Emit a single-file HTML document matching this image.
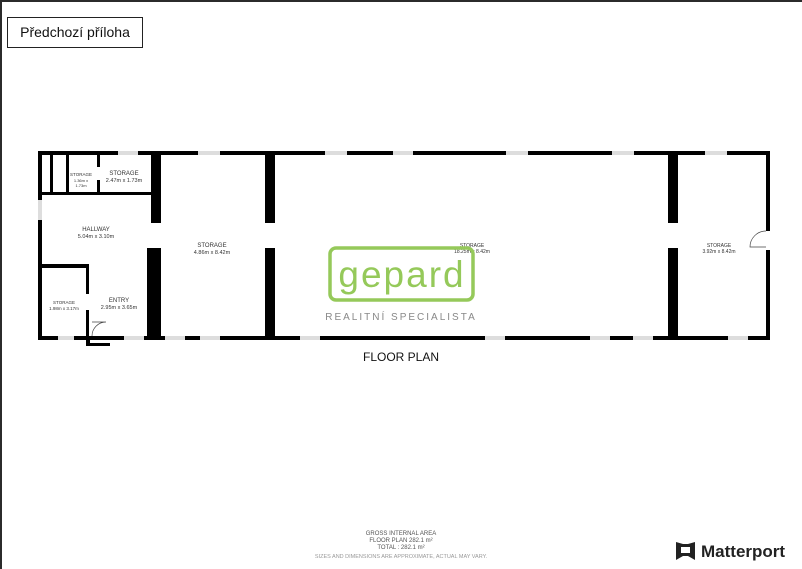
<!DOCTYPE html>
<html><head><meta charset="utf-8">
<style>
html,body{margin:0;padding:0;background:#fff;}
body{width:802px;height:567px;position:relative;overflow:hidden;font-family:"Liberation Sans",sans-serif;}
.frame{position:absolute;left:0;top:0;width:800px;height:567px;border-left:2px solid #2b2b2b;border-top:2px solid #2b2b2b;}
.btn{position:absolute;left:7px;top:17px;width:134px;height:29px;border:1px solid #222;background:#fff;font-size:14px;line-height:29px;text-align:center;color:#111;}
svg{position:absolute;left:0;top:0;}
</style></head><body>
<div class="frame"></div>
<div class="btn">Předchozí příloha</div>
<svg width="802" height="567" viewBox="0 0 802 567" font-family="Liberation Sans, sans-serif">
<g fill="#000">
<rect x="38" y="151" width="731" height="4"/>
<rect x="38" y="336" width="731" height="4"/>
<rect x="38" y="151" width="4" height="189"/>
<rect x="766" y="151" width="4" height="80"/>
<rect x="766" y="250" width="4" height="90"/>
<rect x="151" y="151" width="10" height="72"/>
<rect x="147" y="248" width="14" height="92"/>
<rect x="265" y="151" width="10" height="72"/>
<rect x="265" y="248" width="10" height="92"/>
<rect x="668" y="151" width="10" height="72"/>
<rect x="668" y="248" width="10" height="92"/>
<rect x="38" y="192" width="113" height="3"/>
<rect x="50" y="151" width="3" height="44"/>
<rect x="66" y="151" width="3" height="44"/>
<rect x="97" y="151" width="3" height="16"/>
<rect x="97" y="180" width="3" height="15"/>
<rect x="40" y="264" width="48" height="4"/>
<rect x="86" y="264" width="3" height="30"/>
<rect x="86" y="310" width="3" height="30"/>
<rect x="86" y="336" width="4" height="10"/>
<rect x="86" y="343" width="24" height="3"/>
</g>
<g fill="#ddd">
<rect x="118" y="151" width="20" height="4"/><rect x="198" y="151" width="22" height="4"/>
<rect x="325" y="151" width="22" height="4"/><rect x="393" y="151" width="20" height="4"/>
<rect x="506" y="151" width="22" height="4"/><rect x="612" y="151" width="22" height="4"/>
<rect x="705" y="151" width="22" height="4"/>
<rect x="58" y="336" width="16" height="4"/><rect x="124" y="336" width="20" height="4"/>
<rect x="165" y="336" width="20" height="4"/><rect x="200" y="336" width="20" height="4"/>
<rect x="300" y="336" width="20" height="4"/><rect x="485" y="336" width="20" height="4"/>
<rect x="590" y="336" width="20" height="4"/><rect x="633" y="336" width="20" height="4"/>
<rect x="728" y="336" width="20" height="4"/>
<rect x="38" y="200" width="4" height="20"/>
</g>
<path d="M92 336 A14 14 0 0 1 106 322 L92 322" fill="none" stroke="#444" stroke-width="0.7"/>
<path d="M766 231 A16 16 0 0 0 750 247 L766 247" fill="none" stroke="#444" stroke-width="0.7"/>
<g fill="#333" text-anchor="middle" font-size="5.5">
<text x="81" y="176" font-size="4.5">STORAGE</text><text x="81" y="182" font-size="4">1.36m x</text><text x="81" y="187" font-size="4">1.73m</text>
<text x="124" y="175" font-size="6">STORAGE</text><text x="124" y="182">2.47m x 1.73m</text>
<text x="96" y="231" font-size="6">HALLWAY</text><text x="96" y="238">5.04m x 3.10m</text>
<text x="212" y="247" font-size="6">STORAGE</text><text x="212" y="254">4.86m x 8.42m</text>
<text x="64" y="304" font-size="4.5">STORAGE</text><text x="64" y="310" font-size="4.5">1.98m x 3.17m</text>
<text x="119" y="302" font-size="6">ENTRY</text><text x="119" y="309">2.95m x 3.65m</text>
<text x="472" y="247" font-size="5">STORAGE</text><text x="472" y="253" font-size="5">18.25m x 8.42m</text>
<text x="719" y="247" font-size="5">STORAGE</text><text x="719" y="253" font-size="5">3.92m x 8.42m</text>
</g>
<rect x="330" y="248" width="143" height="52" rx="6" fill="none" stroke="#95c95a" stroke-width="3.5"/>
<text x="402" y="287" text-anchor="middle" font-size="37" fill="#95c95a" letter-spacing="2">gepard</text>
<text x="401" y="320" text-anchor="middle" font-size="10" fill="#888" letter-spacing="2">REALITNÍ SPECIALISTA</text>
<text x="401" y="361" text-anchor="middle" font-size="12" fill="#111">FLOOR PLAN</text>
<g text-anchor="middle" fill="#555" font-size="6">
<text x="401" y="535">GROSS INTERNAL AREA</text>
<text x="401" y="542">FLOOR PLAN 282.1 m²</text>
<text x="401" y="549">TOTAL :  282.1 m²</text>
<text x="401" y="558" fill="#999" font-size="5.5">SIZES AND DIMENSIONS ARE APPROXIMATE, ACTUAL MAY VARY.</text>
</g>
<path d="M676 542 L683 544 L688 544 L695 542 L695 560 L688 556 L683 556 L676 560 Z" fill="#222"/>
<path d="M681 547 L690 547 L690 553 L681 553Z" fill="#fff"/>
<text x="701" y="557" font-size="17" font-weight="bold" fill="#222">Matterport</text>
</svg>
</body></html>
